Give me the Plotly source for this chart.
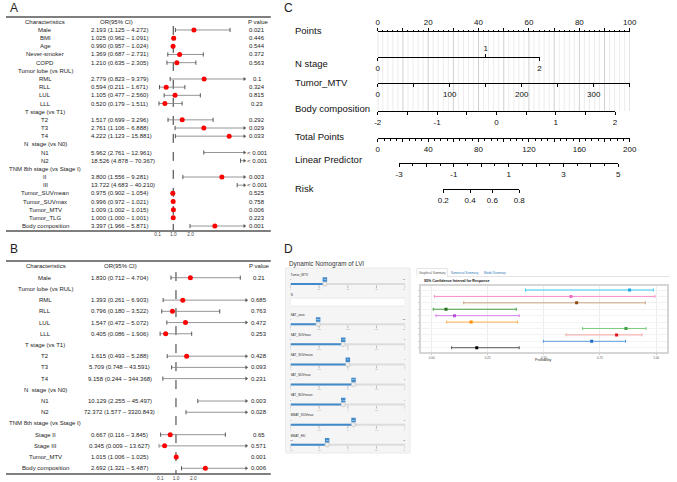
import math
import plotly.graph_objects as go

W, H = 677, 482
FONT = "Liberation Sans, Arial, Helvetica, sans-serif"


def fx(x):
    return x / W


def fy(y):
    return 1 - y / H


# ---------------- Panel A data (univariate) ----------------
A_labels = ["Male", "BMI", "Age", "Never-smoker", "COPD", "Tumor lobe (vs RUL)", "RML", "RLL", "LUL", "LLL",
            "T stage (vs T1)", "T2", "T3", "T4", "N  stage (vs N0)", "N1", "N2", "TNM 8th stage (vs Stage I)",
            "II", "III", "Tumor_SUVmean", "Tumor_SUVmax", "Tumor_MTV", "Tumor_TLG", "Body composition"]
A_or = [2.193, 1.025, 0.990, 1.369, 1.210, None, 2.779, 0.594, 1.105, 0.520, None, 1.517, 2.761, 4.222, None,
        5.962, 18.526, None, 3.800, 13.722, 0.975, 0.996, 1.009, 1.000, 3.397]
A_lo = [1.125, 0.962, 0.957, 0.687, 0.635, None, 0.823, 0.211, 0.477, 0.179, None, 0.699, 1.106, 1.123, None,
        2.761, 4.878, None, 1.556, 4.683, 0.902, 0.972, 1.002, 1.000, 1.966]
A_hi = [4.272, 1.091, 1.024, 2.731, 2.305, None, 9.379, 1.671, 2.560, 1.511, None, 3.296, 6.888, 15.881, None,
        12.961, 70.367, None, 9.281, 40.210, 1.054, 1.021, 1.015, 1.001, 5.871]
A_p = ["0.021", "0.446", "0.544", "0.372", "0.563", "", "0.1", "0.324", "0.815", "0.23", "", "0.292", "0.029",
       "0.033", "", "< 0.001", "< 0.001", "", "0.003", "< 0.001", "0.525", "0.758", "0.006", "0.223", "0.001"]

# ---------------- Panel B data (multivariate) ----------------
B_labels = ["Male", "Tumor lobe (vs RUL)", "RML", "RLL", "LUL", "LLL", "T stage (vs T1)", "T2", "T3", "T4",
            "N  stage (vs N0)", "N1", "N2", "TNM 8th stage (vs Stage I)", "Stage II", "Stage III", "Tumor_MTV",
            "Body composition"]
B_or = [1.830, None, 1.393, 0.796, 1.547, 0.405, None, 1.615, 5.709, 9.158, None, 10.129, 72.372, None, 0.667,
        0.345, 1.015, 2.692]
B_lo = [0.712, None, 0.261, 0.180, 0.472, 0.086, None, 0.493, 0.748, 0.244, None, 2.255, 1.577, None, 0.116,
        0.009, 1.006, 1.321]
B_hi = [4.704, None, 6.903, 3.522, 5.072, 1.906, None, 5.288, 43.591, 344.368, None, 45.497, 3320.843, None,
        3.845, 13.627, 1.025, 5.487]
B_p = ["0.21", "", "0.685", "0.763", "0.472", "0.253", "", "0.428", "0.093", "0.231", "", "0.003", "0.028", "",
       "0.65", "0.571", "0.001", "0.006"]

forest_ticks = [0.1, 1.0, 2.0]
forest_ticktext = ["0.1", "1.0", "2.0"]

# ---------------- Panel C data (nomogram) ----------------
points_ticks = list(range(0, 101, 10))
n_stage_levels = ["0", "1", "2"]
n_stage_points = [0, 42.8, 64.2]
mtv_ticks = list(range(0, 351, 50))
bodycomp_ticks = [-2, -1.5, -1, -0.5, 0, 0.5, 1, 1.5, 2]
total_points_ticks = list(range(0, 201, 20))
lp_ticks = [-3, -2, -1, 0, 1, 2, 3, 4, 5]
risk_ticks = [0.2, 0.4, 0.6, 0.8]
nomo_labels = ["Points", "N stage", "Tumor_MTV", "Body composition", "Total Points", "Linear Predictor", "Risk"]

# ---------------- Panel D data (dynamic nomogram) ----------------
ci_lower = [0.418, 0.013, 0.143, 0.007, 0.019, 0.067, 0.672, 0.599, 0.498, 0.089]
ci_est = [0.882, 0.621, 0.646, 0.064, 0.102, 0.176, 0.866, 0.824, 0.713, 0.201]
ci_upper = [0.988, 0.995, 0.952, 0.377, 0.390, 0.383, 0.955, 0.937, 0.864, 0.390]
ci_line_colors = ["#38C8F5", "#F78FCB", "#C9A27E", "#3E9E3E", "#D682EC", "#FFB04D", "#7BCB7B", "#F4A3A3",
                  "#5B9BE0", "#555555"]
ci_point_colors = ["#1AA3E0", "#F06BBE", "#8B4A13", "#1E6E1E", "#B84FD8", "#FF8C00", "#3FA03F", "#E0161B",
                   "#1F6FC8", "#000000"]
prob_ticks = [0, 0.25, 0.5, 0.75, 1.0]
prob_ticktext = ["0.00", "0.25", "0.50", "0.75", "1.00"]

input_names = ["Tumor_MTV", "N", "SAT_area", "SAT_SUVmax", "SAT_SUVmean", "VAT_SUVmax", "VAT_SUVmean",
               "BMAT_SUVmax", "BMAT_HU"]
input_min = [0, None, 0, 0, 0, 0, 0, 0, -100]
input_max = [100, None, 1200, 10, 2, 10, 2, 10, 100]
input_value = [30, 1, 290, 4.6, 1.0, 5.5, 0.92, 5.5, -36]

tab_names = ["Graphical Summary", "Numerical Summary", "Model Summary"]

# ===================================================================
fig = go.Figure()
annotations = []
shapes = []
axes = {}


def hline(x0, x1, y, color="#555", width=1.3):
    shapes.append(dict(type="line", xref="paper", yref="paper", x0=fx(x0), x1=fx(x1), y0=fy(y), y1=fy(y),
                       line=dict(color=color, width=width)))


def text(x, y, s, size, anchor="center", color="#222", xref="paper", yref="paper", bold=False, yanchor="middle"):
    annotations.append(dict(x=x, y=y, xref=xref, yref=yref, text=("<b>%s</b>" % s) if bold else s,
                            showarrow=False, xanchor=anchor, yanchor=yanchor,
                            font=dict(size=size, color=color, family=FONT)))


def forest(labels, ors, los, his, pvals, xa, ya, xmax, lab_x, or_x, or_anchor, p_x):
    n = len(labels)
    fig.add_trace(go.Scatter(x=[1, 1], y=[-0.5, n - 0.5], mode="lines",
                             line=dict(color="#333", width=1, dash="dash"),
                             xaxis=xa, yaxis=ya, hoverinfo="skip"))
    segx, segy, capx, capy, arrx, arry, ptx, pty = [], [], [], [], [], [], [], []
    for i, (o, l, h) in enumerate(zip(ors, los, his)):
        if o is None:
            continue
        segx += [l, h, None]
        segy += [i, i, None]
        capx += [l, h]
        capy += [i, i]
        if h > xmax:
            arrx.append(xmax)
            arry.append(i)
        ptx.append(o)
        pty.append(i)
    fig.add_trace(go.Scatter(x=segx, y=segy, mode="lines", line=dict(color="#8a8a8a", width=0.9),
                             xaxis=xa, yaxis=ya, hoverinfo="skip"))
    fig.add_trace(go.Scatter(x=capx, y=capy, mode="markers",
                             marker=dict(symbol="line-ns", size=3, line=dict(color="#444", width=0.9)),
                             xaxis=xa, yaxis=ya, hoverinfo="skip"))
    fig.add_trace(go.Scatter(x=arrx, y=arry, mode="markers", cliponaxis=False,
                             marker=dict(symbol="triangle-right", size=3.5, color="#555"),
                             xaxis=xa, yaxis=ya, hoverinfo="skip"))
    fig.add_trace(go.Scatter(x=ptx, y=pty, mode="markers", marker=dict(color="#FF0000", size=5),
                             xaxis=xa, yaxis=ya, hoverinfo="skip"))
    yref = "y" if ya == "y" else ya
    for i, lab in enumerate(labels):
        text(fx(lab_x), i, lab, 6, yref=yref)
        if ors[i] is not None:
            s = "%.3f (%.3f \u2013 %.3f)" % (ors[i], los[i], his[i])
            text(fx(or_x), i, s, 6, anchor=or_anchor, yref=yref)
        if pvals[i]:
            text(fx(p_x), i, pvals[i], 6, yref=yref)


# ---------------- Panel A ----------------
A_XMAX = 5.1
axes["xaxis"] = dict(domain=[fx(152.8), fx(243.1)], range=[0, A_XMAX], anchor="y", showgrid=False,
                     zeroline=False, showline=False, ticks="", tickmode="array", tickvals=forest_ticks,
                     ticktext=forest_ticktext, tickfont=dict(size=4.8, color="#444", family=FONT))
axes["yaxis"] = dict(domain=[fy(230.1), fy(25.9)], range=[len(A_labels) - 0.5, -0.5], visible=False,
                     anchor="x")
forest(A_labels, A_or, A_lo, A_hi, A_p, "x", "y", A_XMAX, 40, 85, "left", 256)
hline(0, 270, 17)
hline(0, 270, 231)
text(fx(40), fy(22), "Characteristics", 6)
text(fx(112.5), fy(22), "OR(95% CI)", 6)
text(fx(257), fy(22), "P value", 6)
text(fx(8), fy(8), "A", 12)

# ---------------- Panel B ----------------
B_XMAX = 5.05
axes["xaxis2"] = dict(domain=[fx(155.6), fx(245)], range=[0, B_XMAX], anchor="y2", showgrid=False,
                      zeroline=False, showline=False, ticks="", tickmode="array", tickvals=forest_ticks,
                      ticktext=forest_ticktext, tickfont=dict(size=4.8, color="#444", family=FONT))
axes["yaxis2"] = dict(domain=[fy(473.9), fy(272.1)], range=[len(B_labels) - 0.5, -0.5], visible=False,
                      anchor="x2")
forest(B_labels, B_or, B_lo, B_hi, B_p, "x2", "y2", B_XMAX, 40, 116, "center", 258)
hline(0, 270, 261)
hline(0, 270, 474)
text(fx(41), fy(266), "Characteristics", 6)
text(fx(117), fy(266), "OR(95% CI)", 6)
text(fx(258), fy(266), "P value", 6)
text(fx(8), fy(249), "B", 12)

# ---------------- Panel C ----------------
text(fx(288), fy(8), "C", 12)
axes["yaxis3"] = dict(domain=[0, 1], range=[0, 1], visible=False)


def pad(r):
    d = (r[1] - r[0]) * 1e-4
    return [r[0] - d, r[1] + d]


tfont = dict(size=8, color="#111", family=FONT)
base = dict(anchor="free", showline=True, linecolor="black", linewidth=1, ticks="outside", tickcolor="black",
            tickwidth=1, ticklen=3, showgrid=False, zeroline=False, tickfont=tfont, tickmode="array")


def lab_every(vals, keep):
    return [("%g" % v) if keep(v) else "" for v in vals]


# Points
axes["xaxis3"] = dict(base, domain=[fx(379), fx(636)], range=pad([0, 100]), side="top", position=fy(31),
                      tickvals=points_ticks, ticktext=lab_every(points_ticks, lambda v: v % 20 == 0),
                      minor=dict(tickmode="linear", tick0=0, dtick=2, ticks="outside", ticklen=1.5,
                                 tickcolor="black", tickwidth=1))
# N stage (top tick and bottom ticks)
ns_rng = pad([0, max(n_stage_points)])
axes["xaxis4"] = dict(base, domain=[fx(379), fx(544)], range=ns_rng, side="top", position=fy(57),
                      tickvals=[n_stage_points[1]], ticktext=[n_stage_levels[1]])
axes["xaxis5"] = dict(base, domain=[fx(379), fx(544)], range=ns_rng, side="bottom", position=fy(57),
                      showline=False, tickvals=[n_stage_points[0], n_stage_points[2]],
                      ticktext=[n_stage_levels[0], n_stage_levels[2]])
# Tumor_MTV
axes["xaxis6"] = dict(base, domain=[fx(379), fx(636)], range=pad([0, 350]), side="bottom", position=fy(83),
                      tickvals=mtv_ticks, ticktext=lab_every(mtv_ticks, lambda v: v % 100 == 0))
# Body composition
axes["xaxis7"] = dict(base, domain=[fx(379), fx(621)], range=pad([-2, 2]), side="bottom", position=fy(111),
                      tickvals=bodycomp_ticks, ticktext=lab_every(bodycomp_ticks, lambda v: v == int(v)))
# Total points
axes["xaxis8"] = dict(base, domain=[fx(379), fx(636)], range=pad([0, 200]), side="bottom", position=fy(138),
                      tickvals=total_points_ticks,
                      ticktext=lab_every(total_points_ticks, lambda v: v % 40 == 0),
                      minor=dict(tickmode="linear", tick0=0, dtick=5, ticks="outside", ticklen=1.5,
                                 tickcolor="black", tickwidth=1))
# Linear predictor
LP_PX = (400.7, 624.3)
LP_RNG = (-3, 5)
axes["xaxis9"] = dict(base, domain=[fx(LP_PX[0]), fx(LP_PX[1])], range=pad(list(LP_RNG)), side="bottom",
                      position=fy(163), tickvals=lp_ticks,
                      ticktext=lab_every(lp_ticks, lambda v: v % 2 != 0),
                      minor=dict(tickmode="linear", tick0=-3, dtick=0.5, ticks="outside", ticklen=1.5,
                                 tickcolor="black", tickwidth=1))
# Risk (positioned through the logit of the linear predictor scale)
logit = lambda p: math.log(p / (1 - p))
lp_px = lambda v: LP_PX[0] + (v - LP_RNG[0]) / (LP_RNG[1] - LP_RNG[0]) * (LP_PX[1] - LP_PX[0])
r_lo, r_hi = logit(min(risk_ticks)), logit(max(risk_ticks))
axes["xaxis10"] = dict(base, domain=[fx(lp_px(r_lo)), fx(lp_px(r_hi))], range=pad([r_lo, r_hi]), side="bottom",
                       position=fy(189), tickvals=[logit(p) for p in risk_ticks],
                       ticktext=["%g" % p for p in risk_ticks])

for k in range(3, 11):
    r = axes["xaxis%d" % k]["range"]
    fig.add_trace(go.Scatter(x=[(r[0] + r[1]) / 2], y=[0.5], mode="markers", marker=dict(opacity=0),
                             xaxis="x%d" % k, yaxis="y3", hoverinfo="skip"))

# grid lines for the nomogram (points axis)
for v in range(0, 101, 2):
    if v % 10:
        shapes.append(dict(type="line", xref="x3", yref="paper", x0=v, x1=v, y0=fy(111), y1=fy(31),
                           layer="below", line=dict(color="#ececec", width=1)))
for v in range(0, 101, 10):
    shapes.append(dict(type="line", xref="x3", yref="paper", x0=v, x1=v, y0=fy(111), y1=fy(31),
                       layer="below", line=dict(color="#cfcfcf", width=1)))

for lab, ypx in zip(nomo_labels, [30, 64, 82, 109, 136, 160, 189]):
    text(fx(293), fy(ypx), lab, 9.5, anchor="left", color="#111")

# ---------------- Panel D ----------------
text(fx(288), fy(249), "D", 12)
text(fx(287), fy(264), "Dynamic Nomogram of LVI", 6.3, anchor="left", color="#333")

# sidebar well
shapes.append(dict(type="rect", xref="paper", yref="paper", x0=fx(285), x1=fx(412), y0=fy(453), y1=fy(268),
                   fillcolor="#f5f5f5", line=dict(color="#e6e6e6", width=0.8), layer="below"))
axes["xaxis12"] = dict(domain=[fx(290), fx(407)], range=[0, 1], visible=False, anchor="y12")
axes["yaxis12"] = dict(domain=[fy(453), fy(268)], range=[8.86, -0.35], visible=False, anchor="x12")

rows = list(range(len(input_names)))
fig.add_trace(go.Scatter(x=[0] * len(rows), y=rows, mode="text", text=input_names, textposition="middle right",
                         textfont=dict(size=3.2, color="#333", family=FONT), xaxis="x12", yaxis="y12",
                         hoverinfo="skip"))
trk_x, trk_y, fil_x, fil_y, hx, hy, bx, by, btxt = [], [], [], [], [], [], [], [], []
gx, gy, gtx, gty, gtxt, mmx, mmy, mmt = [], [], [], [], [], [], [], []
for i in rows:
    if input_min[i] is None:
        shapes.append(dict(type="rect", xref="x12", yref="y12", x0=0, x1=1, y0=i + 0.15, y1=i + 0.55,
                           fillcolor="white", line=dict(color="#dddddd", width=0.6)))
        continue
    f = (input_value[i] - input_min[i]) / (input_max[i] - input_min[i])
    yt = i + 0.45
    trk_x += [0, 1, None]
    trk_y += [yt, yt, None]
    fil_x += [0, f, None]
    fil_y += [yt, yt, None]
    hx.append(f)
    hy.append(yt)
    bx.append(f)
    by.append(i + 0.22)
    btxt.append("%g" % input_value[i])
    mmx += [0, 1]
    mmy += [i + 0.22, i + 0.22]
    mmt += ["%g" % input_min[i], "%g" % input_max[i]]
    for k in range(5):
        gx.append(k / 4)
        gy.append(i + 0.58)
        gtx.append(k / 4)
        gty.append(i + 0.72)
        gtxt.append("%g" % (input_min[i] + k * (input_max[i] - input_min[i]) / 4))
sel = input_min.index(None)
fig.add_trace(go.Scatter(x=[0.03, 0.96], y=[sel + 0.35, sel + 0.35], mode="text",
                         text=["%g" % input_value[sel], "\u25be"], textposition="middle center",
                         textfont=dict(size=3, color="#555", family=FONT), xaxis="x12", yaxis="y12",
                         hoverinfo="skip"))
fig.add_trace(go.Scatter(x=trk_x, y=trk_y, mode="lines", line=dict(color="#dcdcdc", width=2),
                         xaxis="x12", yaxis="y12", hoverinfo="skip"))
fig.add_trace(go.Scatter(x=fil_x, y=fil_y, mode="lines", line=dict(color="#428bca", width=2),
                         xaxis="x12", yaxis="y12", hoverinfo="skip"))
fig.add_trace(go.Scatter(x=gx, y=gy, mode="markers", marker=dict(symbol="line-ns", size=2,
                         line=dict(color="#999", width=0.6)), xaxis="x12", yaxis="y12", hoverinfo="skip"))
fig.add_trace(go.Scatter(x=gtx, y=gty, mode="text", text=gtxt, textfont=dict(size=2.3, color="#999"),
                         xaxis="x12", yaxis="y12", hoverinfo="skip"))
fig.add_trace(go.Scatter(x=mmx, y=mmy, mode="text", text=mmt, textfont=dict(size=2.3, color="#333"),
                         xaxis="x12", yaxis="y12", hoverinfo="skip"))
fig.add_trace(go.Scatter(x=hx, y=hy, mode="markers", marker=dict(symbol="circle", size=4.5, color="#eeeeee",
                         line=dict(color="#b0b0b0", width=0.5)), xaxis="x12", yaxis="y12", hoverinfo="skip"))
fig.add_trace(go.Scatter(x=bx, y=by, mode="markers+text", text=btxt, textposition="middle center",
                         marker=dict(symbol="square", size=4.5, color="#428bca"),
                         textfont=dict(size=2.2, color="white"), xaxis="x12", yaxis="y12", hoverinfo="skip"))

# tabs
shapes.append(dict(type="line", xref="paper", yref="paper", x0=fx(450), x1=fx(677), y0=fy(276.5), y1=fy(276.5),
                   line=dict(color="#dddddd", width=0.8)))
shapes.append(dict(type="path", xref="paper", yref="paper",
                   path="M %f %f L %f %f L %f %f L %f %f" % (fx(419), fy(276.5), fx(419), fy(268.5), fx(450),
                                                             fy(268.5), fx(450), fy(276.5)),
                   line=dict(color="#dddddd", width=0.8)))
for name, cx, col in zip(tab_names, [434.5, 467.5, 498.5], ["#555555", "#337ab7", "#337ab7"]):
    text(fx(cx), fy(272.7), name, 3, color=col)
text(fx(424), fy(281), "95% Confidence Interval for Response", 3.6, anchor="left", color="#111", bold=True)

# CI plot
axes["xaxis11"] = dict(domain=[fx(423), fx(674)], range=[-0.048, 1.049], anchor="y11", showline=True,
                       mirror=True, linecolor="#d6d6d6", linewidth=1.5, showgrid=True, gridcolor="#ececec",
                       gridwidth=0.8, zeroline=False, tickmode="array", tickvals=prob_ticks,
                       ticktext=prob_ticktext, ticks="outside", ticklen=1.5, tickcolor="#cccccc",
                       tickfont=dict(size=3, color="#555", family=FONT))
axes["yaxis11"] = dict(domain=[fy(351.7), fy(285.7)], range=[len(ci_est) + 0.62, 0.33], anchor="x11",
                       showline=True, mirror=True, linecolor="#d6d6d6", linewidth=1.5, showgrid=True,
                       gridcolor="#f3f3f3", gridwidth=0.8, zeroline=False, tickmode="array",
                       tickvals=list(range(1, len(ci_est) + 1)), ticktext=[""] * len(ci_est),
                       ticks="outside", ticklen=1.5, tickcolor="#cccccc")
for i in range(len(ci_est)):
    fig.add_trace(go.Scatter(x=[ci_est[i]], y=[i + 1], mode="markers",
                             marker=dict(symbol="square", size=3, color=ci_point_colors[i]),
                             error_x=dict(type="data", symmetric=False, array=[ci_upper[i] - ci_est[i]],
                                          arrayminus=[ci_est[i] - ci_lower[i]], color=ci_line_colors[i],
                                          thickness=1, width=1.5),
                             xaxis="x11", yaxis="y11", hoverinfo="skip"))
text(fx(548), fy(359.5), "Probability", 3.5, color="#222")

fig.update_layout(width=W, height=H, autosize=False, margin=dict(l=0, r=0, t=0, b=0),
                  paper_bgcolor="white", plot_bgcolor="rgba(0,0,0,0)", showlegend=False,
                  font=dict(family=FONT, color="#222"), annotations=annotations, shapes=shapes, **axes)

fig.write_html("out.html")
